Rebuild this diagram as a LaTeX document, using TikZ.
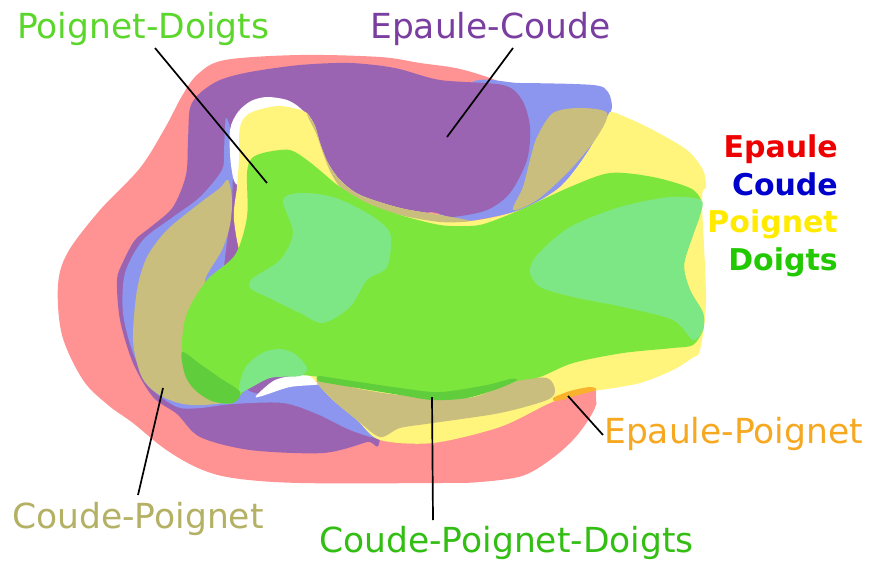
\documentclass[tikz,border=0pt]{standalone}
\usepackage{fontspec}
\setmainfont{DejaVu Sans}
\definecolor{cPink}{HTML}{FF9292}
\definecolor{cPurple}{HTML}{9A64B3}
\definecolor{cBlue}{HTML}{8C96EE}
\definecolor{cYellow}{HTML}{FFF47C}
\definecolor{cOlive}{HTML}{C9BE7E}
\definecolor{cGreen}{HTML}{7DE63C}
\definecolor{cLight}{HTML}{7DE685}
\definecolor{cDark}{HTML}{5FCD3C}
\definecolor{cOrange}{HTML}{F8B22C}
\definecolor{tPD}{HTML}{5AD72A}
\definecolor{tEC}{HTML}{7A3DA0}
\definecolor{tE}{HTML}{EE0000}
\definecolor{tC}{HTML}{0000CC}
\definecolor{tP}{HTML}{FFEA00}
\definecolor{tD}{HTML}{22C800}
\definecolor{tEP}{HTML}{F5A820}
\definecolor{tCP}{HTML}{B4B064}
\definecolor{tCPD}{HTML}{33BE14}
\begin{document}
\begin{tikzpicture}[x=1pt,y=-1pt,
  lab/.style={font=\fontsize{34.5}{36}\selectfont, inner sep=0pt},
  leg/.style={font=\bfseries\fontsize{30}{32}\selectfont, inner sep=0pt, anchor=base east},
  ptr/.style={draw=black, line width=1.7pt}]
\useasboundingbox (0,0) rectangle (877,560);
\fill[white] (0,0) rectangle (877,560);
% Epaule (pink)
\fill[cPink] plot[smooth cycle, tension=0.55] coordinates {(225,60)(300,55)(380,57)(420,63)(460,69)(500,82)(515,95)(570,200)(598,300)(596,392)(596,405)(587,422)(572,441)(550,460)(522,476)(480,482)(440,483)(300,483)(233,478)(198,468)(165,449)(133,423)(108,405)(83,380)(62,335)(58,285)(68,252)(100,210)(140,168)(165,128)(182,96)(198,74)};
% Coude right part (blue)
\fill[cBlue] plot[smooth cycle, tension=0.5] coordinates {(470,84)(520,83)(593,85)(608,92)(612,108)(606,120)(587,153)(560,187)(520,210)(470,221)(440,222)(450,150)};
% Epaule-Coude (purple)
\fill[cPurple] plot[smooth cycle, tension=0.5] coordinates {(190,108)(200,93)(220,80)(250,72)(300,65)(350,63)(395,68)(440,80)(503,85)(522,100)(530,127)(527,160)(510,193)(487,210)(453,217)(420,217)(380,300)(380,437)(367,442)(323,453)(250,450)(200,437)(177,414)(153,397)(133,363)(120,320)(117,280)(123,262)(135,240)(152,226)(173,207)(186,175)(188,140)};
% Coude inner band (blue)
\fill[cBlue] plot[smooth cycle, tension=0.5] coordinates {(226,118)(224,150)(222,170)(200,197)(173,217)(143,240)(125,273)(123,313)(133,353)(150,387)(177,407)(200,408)(233,404)(283,403)(317,414)(350,430)(377,438)(360,422)(335,400)(318,384)(290,386)(262,394)(240,380)(222,300)(232,200)(232,140)};
% white holes
\fill[white] plot[smooth cycle, tension=0.5] coordinates {(230,130)(238,112)(251,101)(267,97)(287,100)(300,108)(310,122)(300,150)(265,168)(238,185)(231,165)};
\fill[white] plot[smooth cycle, tension=0.5] coordinates {(256,396)(275,380)(300,375)(320,376)(320,384)(290,387)(262,396)};
% Poignet (yellow)
\fill[cYellow] plot[smooth cycle, tension=0.5] coordinates {(240,127)(250,113)(277,106)(297,109)(307,113)(315,126)(320,143)(328,163)(340,180)(360,195)(400,208)(440,215)(470,221)(520,210)(560,187)(587,153)(607,117)(612,112)(630,119)(653,130)(687,150)(703,170)(706,187)(702,200)(706,300)(700,350)(692,358)(673,370)(640,383)(600,390)(585,391)(550,403)(500,427)(433,443)(380,440)(357,420)(333,400)(317,383)(280,340)(245,270)(234,220)(237,187)(239,160)};
% Coude-Poignet (olive)
\fill[cOlive] plot[smooth cycle, tension=0.5] coordinates {(228,180)(232,200)(230,225)(222,250)(205,280)(212,300)(215,380)(230,400)(205,405)(183,404)(165,398)(150,388)(140,373)(133,340)(137,290)(147,257)(167,230)(200,203)(220,188)};
\fill[cOlive] plot[smooth cycle, tension=0.5] coordinates {(317,380)(360,389)(400,395)(467,398)(500,387)(517,380)(547,378)(555,390)(547,400)(500,413)(433,423)(400,428)(380,437)(357,420)(333,400)};
\fill[cOlive] plot[smooth cycle, tension=0.5] coordinates {(537,137)(553,113)(580,108)(607,113)(597,137)(570,170)(537,200)(513,210)(523,187)(530,160)};
\fill[cOlive] plot[smooth cycle, tension=0.5] coordinates {(307,113)(315,126)(320,143)(328,163)(340,180)(360,195)(400,208)(440,215)(470,221)(440,222)(400,215)(365,203)(342,189)(331,173)(323,153)(316,133)(309,119)};
% Doigts (green)
\fill[cGreen] plot[smooth cycle, tension=0.5] coordinates {(247,173)(252,158)(267,152)(290,150)(307,160)(323,173)(340,187)(367,203)(400,215)(440,225)(470,226)(487,223)(520,210)(570,187)(610,173)(653,177)(690,188)(701,200)(700,215)(693,235)(684,265)(690,290)(703,313)(703,330)(693,345)(673,348)(623,353)(573,363)(540,377)(517,381)(483,392)(433,396)(383,388)(333,379)(300,375)(270,377)(245,390)(233,403)(210,400)(190,380)(182,347)(187,313)(207,280)(235,255)(247,217)};
\fill[cLight] plot[smooth cycle, tension=0.5] coordinates {(283,200)(300,193)(333,197)(367,213)(390,233)(387,267)(367,280)(350,307)(323,323)(300,313)(267,297)(250,288)(253,278)(280,260)(293,233)};
\fill[cLight] plot[smooth cycle, tension=0.5] coordinates {(240,392)(245,368)(262,353)(280,349)(295,354)(307,368)(300,376)(270,378)};
\fill[cLight] plot[smooth cycle, tension=0.5] coordinates {(530,272)(537,255)(570,227)(620,207)(670,197)(701,200)(700,215)(693,235)(684,265)(690,290)(703,313)(703,330)(693,340)(673,320)(623,307)(573,297)(540,287)};
\fill[cDark] plot[smooth cycle, tension=0.5] coordinates {(182,352)(200,364)(220,378)(240,392)(233,403)(212,401)(195,390)(185,375)};
\fill[cDark] plot[smooth cycle, tension=0.5] coordinates {(318,376)(333,378)(400,388)(440,392)(487,385)(510,379)(517,380)(500,388)(467,398)(433,400)(400,395)(333,384)(318,381)};
% Epaule-Poignet (orange sliver)
\fill[cOrange] plot[smooth cycle, tension=0.5] coordinates {(553,398)(570,391)(590,387)(596,390)(578,395)(557,401)};
% labels
\node[lab, text=tPD, anchor=base west] (pd) at (17,38) {Poignet-Doigts};
\node[lab, text=tEC, anchor=base west] (ec) at (370,38) {Epaule-Coude};
\node[leg, text=tE] (le) at (838,157) {Epaule};
\node[leg, text=tC] (lc) at (838,195) {Coude};
\node[leg, text=tP] (lp) at (838,232) {Poignet};
\node[leg, text=tD] (ld) at (838,270) {Doigts};
\node[lab, text=tEP, anchor=base west] (ep) at (604,443) {Epaule-Poignet};
\node[lab, text=tCP, anchor=base west] (cp) at (12,528) {Coude-Poignet};
\node[lab, text=tCPD, anchor=base west] (cpd) at (319,552) {Coude-Poignet-Doigts};
% pointers
\coordinate (pd1) at (155,48); \coordinate (pd2) at (267,183);
\coordinate (ec1) at (513,48); \coordinate (ec2) at (447,137);
\coordinate (cp1) at (138,495); \coordinate (cp2) at (163,388);
\coordinate (cpd1) at (433,520); \coordinate (cpd2) at (432,397);
\coordinate (ep1) at (603,435); \coordinate (ep2) at (568,396);
\draw[ptr] (pd1) -- (pd2);
\draw[ptr] (ec1) -- (ec2);
\draw[ptr] (cp1) -- (cp2);
\draw[ptr] (cpd1) -- (cpd2);
\draw[ptr] (ep1) -- (ep2);
\end{tikzpicture}
\end{document}
